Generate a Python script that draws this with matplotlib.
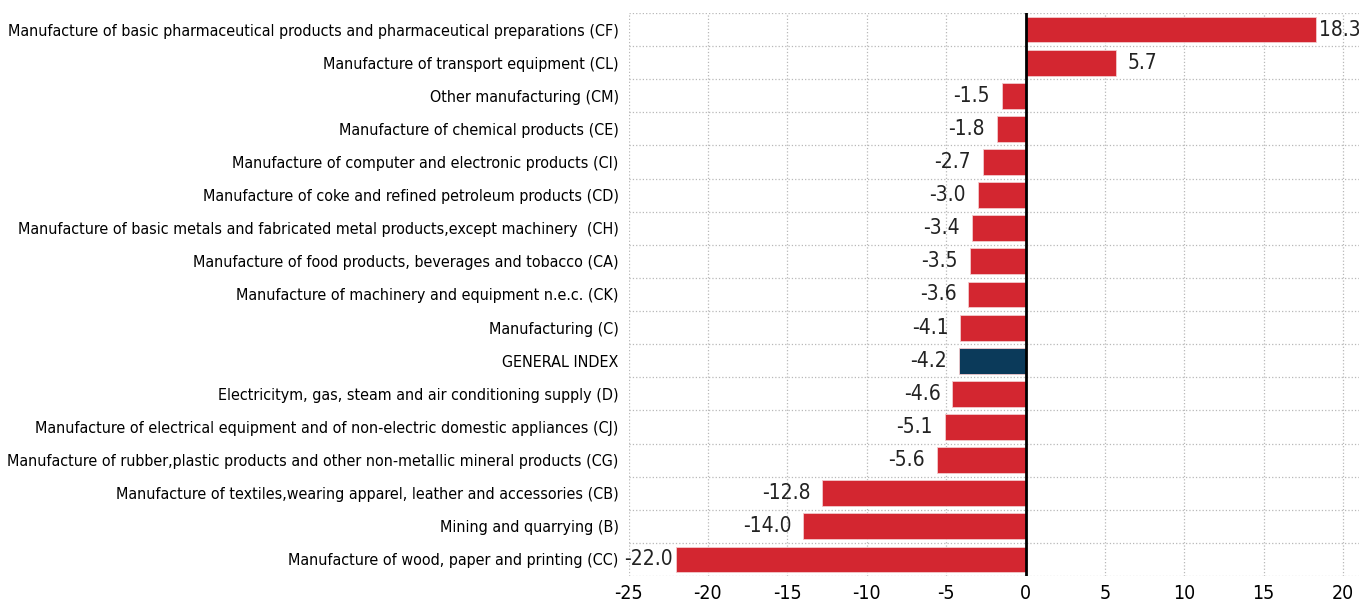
import matplotlib.pyplot as plt
import matplotlib.transforms as mtransforms

plt.rcParams['font.family'] = ['DejaVu Sans']
plt.rcParams['font.stretch'] = 'condensed'
plt.rcParams['axes.unicode_minus'] = False

categories = [
    "Manufacture of basic pharmaceutical products and pharmaceutical preparations (CF)",
    "Manufacture of transport equipment (CL)",
    "Other manufacturing (CM)",
    "Manufacture of chemical products (CE)",
    "Manufacture of computer and electronic products (CI)",
    "Manufacture of coke and refined petroleum products (CD)",
    "Manufacture of basic metals and fabricated metal products,except machinery  (CH)",
    "Manufacture of food products, beverages and tobacco (CA)",
    "Manufacture of machinery and equipment n.e.c. (CK)",
    "Manufacturing (C)",
    "GENERAL INDEX",
    "Electricitym, gas, steam and air conditioning supply (D)",
    "Manufacture of electrical equipment and of non-electric domestic appliances (CJ)",
    "Manufacture of rubber,plastic products and other non-metallic mineral products (CG)",
    "Manufacture of textiles,wearing apparel, leather and accessories (CB)",
    "Mining and quarrying (B)",
    "Manufacture of wood, paper and printing (CC)",
]
values = [18.3, 5.7, -1.5, -1.8, -2.7, -3.0, -3.4, -3.5, -3.6, -4.1, -4.2,
          -4.6, -5.1, -5.6, -12.8, -14.0, -22.0]
highlight = "GENERAL INDEX"

red = '#d32630'
navy = '#0b3a5a'

fig = plt.figure(figsize=(13.59, 6.12), dpi=100)
ax = fig.add_axes([0.4625, 0.0588, 0.5375, 0.92])

y = list(range(len(categories)))[::-1]
colors = [navy if c == highlight else red for c in categories]
ax.barh(y, values, height=0.78, color=colors, edgecolor='#f2c9cc', linewidth=0.6, zorder=3)

ax.set_xlim(-25, 21)
ax.set_ylim(-0.5, len(categories) - 0.5)
ax.set_xticks(range(-25, 21, 5))
ax.set_yticks(y)
ax.set_yticklabels(categories, fontsize=11.5)
# row separators
ax.set_yticks([v + 0.5 for v in y] + [-0.5], minor=True)
ax.tick_params(axis='x', labelsize=14, length=0, pad=6)
ax.tick_params(axis='y', which='both', length=0, pad=7)
ax.grid(axis='x', which='major', color='#b8b8b8', linestyle=':', linewidth=0.9, zorder=0)
ax.grid(axis='y', which='minor', color='#b8b8b8', linestyle=':', linewidth=0.9, zorder=0)
ax.grid(axis='y', which='major', visible=False)
for s in ax.spines.values():
    s.set_visible(False)
ax.axvline(0, color='black', linewidth=2, zorder=4)

# value labels at bar ends
for yi, v in zip(y, values):
    off = 3 if abs(v) > 15 else 12
    if v >= 0:
        tr = ax.transData + mtransforms.ScaledTranslation(off / 100, 0, fig.dpi_scale_trans)
        ax.text(v, yi, f"{v:.1f}", va='center', ha='left', fontsize=15, color='#222222', transform=tr)
    else:
        tr = ax.transData + mtransforms.ScaledTranslation(-off / 100, 0, fig.dpi_scale_trans)
        ax.text(v, yi, f"{v:.1f}", va='center', ha='right', fontsize=15, color='#222222', transform=tr)

fig.savefig('out.png', dpi=100)
